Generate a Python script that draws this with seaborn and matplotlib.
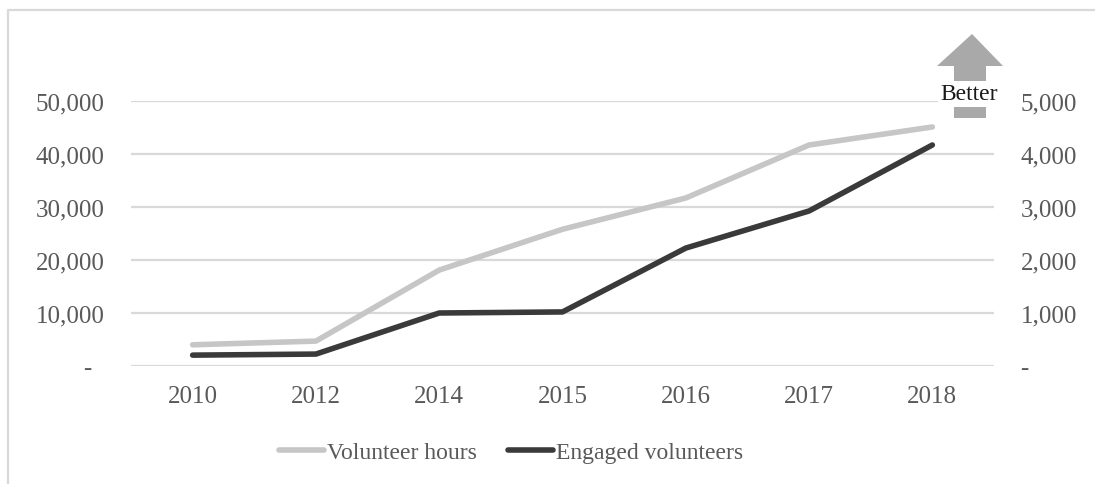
import matplotlib
matplotlib.use("Agg")
import matplotlib.pyplot as plt
import matplotlib.patches as mpatches
import matplotlib.lines as mlines
import seaborn as sns
import pandas as pd

# data
years = ["2010", "2012", "2014", "2015", "2016", "2017", "2018"]
volunteer_hours = [4000, 4700, 18100, 25800, 31700, 41700, 45100]
engaged_volunteers = [205, 225, 1000, 1020, 2225, 2925, 4170]

left_ticks = [0, 10000, 20000, 30000, 40000, 50000]
left_labels = ["-  ", "10,000", "20,000", "30,000", "40,000", "50,000"]
right_ticks = [0, 1000, 2000, 3000, 4000, 5000]
right_labels = ["-", "1,000", "2,000", "3,000", "4,000", "5,000"]

df = pd.DataFrame({"year": years, "hours": volunteer_hours, "vols": engaged_volunteers})

sns.set_style("white")
plt.rcParams["font.family"] = ["Liberation Serif", "DejaVu Serif"]

W, H = 1095, 485
fig = plt.figure(figsize=(W / 100, H / 100), dpi=100)
ax = fig.add_axes([131 / W, 1 - 367 / H, (994 - 131) / W, (367 - 102) / H])
ax2 = ax.twinx()

grey = "#c6c6c6"
dark = "#3a3a3a"
tick_col = "#595959"

sns.lineplot(data=df, x="year", y="hours", ax=ax, color=grey, linewidth=4,
             solid_capstyle="round", label="Volunteer hours", legend=False, clip_on=False, zorder=3)
sns.lineplot(data=df, x="year", y="vols", ax=ax2, color=dark, linewidth=4,
             solid_capstyle="round", label="Engaged volunteers", legend=False, clip_on=False, zorder=3)

ax.set_xlim(-0.5, len(years) - 0.5)
ax.set_ylim(0, 50000)
ax2.set_ylim(0, 5000)
ax.set_yticks(left_ticks)
ax.set_yticklabels(left_labels)
ax2.set_yticks(right_ticks)
ax2.set_yticklabels(right_labels)
ax.set_xlabel("")
ax.set_ylabel("")
ax2.set_ylabel("")

for a in (ax, ax2):
    for s in a.spines.values():
        s.set_visible(False)
    a.tick_params(length=0, labelsize=18, colors=tick_col, pad=19)
ax.tick_params(axis="x", pad=14)
ax.grid(axis="y", color="#d9d9d9", linewidth=1.6)
ax.grid(axis="x", visible=False)
ax2.grid(False)
ax.set_zorder(ax2.get_zorder() - 1)
ax2.patch.set_visible(False)

# legend
h1 = mlines.Line2D([], [], color=grey, linewidth=4, solid_capstyle="round")
h2 = mlines.Line2D([], [], color=dark, linewidth=4, solid_capstyle="round")
fig.legend([h1, h2], ["Volunteer hours", "Engaged volunteers"], loc="center",
           bbox_to_anchor=(511 / W, 1 - 453 / H), ncol=2, frameon=False,
           fontsize=17, labelcolor=tick_col, handlelength=1.9, handletextpad=0.1,
           columnspacing=1.35)

# "Better" arrow
def fp(x, y):
    return (x / W, 1 - y / H)

arrow = [fp(972, 35), fp(1003, 67), fp(986, 67), fp(986, 119), fp(954, 119),
         fp(954, 67), fp(937, 67)]
fig.add_artist(mpatches.Polygon(arrow, closed=True, transform=fig.transFigure,
                                facecolor="#a9a9a9", edgecolor="none"))
fig.text(*fp(969, 95), "Better", ha="center", va="center", fontsize=17, color="#1a1a1a",
         bbox=dict(facecolor="white", edgecolor="none", pad=1.5))

# outer frame (left and top)
fig.add_artist(mlines.Line2D([8 / W, 8 / W], [0, 1 - 11 / H], color="#d9d9d9", linewidth=1.6,
                             transform=fig.transFigure))
fig.add_artist(mlines.Line2D([8 / W, 1], [1 - 11 / H, 1 - 11 / H], color="#d9d9d9", linewidth=1.6,
                             transform=fig.transFigure))

fig.savefig("out.png", dpi=100)
